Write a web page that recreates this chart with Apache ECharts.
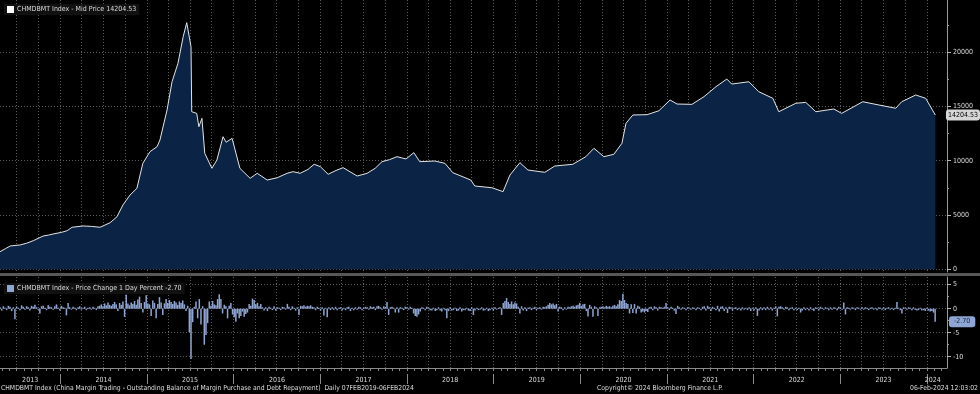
<!DOCTYPE html>
<html><head><meta charset="utf-8">
<script src="https://cdn.jsdelivr.net/npm/echarts@6/dist/echarts.min.js"></script>
<style>html,body{margin:0;padding:0;background:#000;}#c{width:980px;height:394px;}</style>
</head><body><div id="c"></div>
<script>
// ---- data ----
const priceDates = ['2013-04-22','2013-05-15','2013-06-04','2013-07-16','2013-08-12','2013-09-09','2013-10-21','2013-11-12','2013-12-02','2014-01-06','2014-01-30','2014-02-20','2014-04-07','2014-05-12','2014-06-18','2014-07-30','2014-08-28','2014-09-22','2014-10-22','2014-11-20','2014-12-15','2015-01-14','2015-02-13','2015-02-25','2015-03-27','2015-04-17','2015-05-12','2015-06-03','2015-06-18','2015-07-06','2015-07-09','2015-07-30','2015-08-08','2015-08-21','2015-09-02','2015-10-02','2015-10-23','2015-11-18','2015-12-01','2015-12-09','2015-12-26','2016-01-28','2016-03-11','2016-04-10','2016-05-22','2016-07-03','2016-08-14','2016-09-08','2016-10-08','2016-11-10','2016-12-06','2017-01-01','2017-02-03','2017-03-08','2017-04-07','2017-06-05','2017-07-17','2017-08-20','2017-09-18','2017-10-20','2017-11-20','2017-12-28','2018-01-30','2018-02-24','2018-04-28','2018-06-10','2018-07-13','2018-09-27','2018-10-14','2018-12-25','2019-02-10','2019-03-11','2019-04-22','2019-05-26','2019-08-05','2019-09-16','2019-12-01','2020-01-25','2020-02-28','2020-04-10','2020-05-22','2020-06-25','2020-07-12','2020-08-10','2020-10-09','2020-11-28','2021-01-14','2021-02-12','2021-04-16','2021-06-06','2021-07-26','2021-09-10','2021-10-01','2021-12-12','2022-01-23','2022-03-23','2022-04-17','2022-06-28','2022-08-09','2022-09-20','2022-12-05','2023-01-07','2023-04-06','2023-06-13','2023-08-23','2023-09-17','2023-11-15','2023-12-27','2024-02-06'];
const priceValues = [1620,1900,2145,2240,2400,2630,3065,3150,3250,3400,3555,3870,3990,3950,3870,4290,4840,5920,6840,7460,9760,10830,11290,11900,14670,17270,18970,21420,22710,20500,14510,14360,13130,13900,10680,9300,10060,12210,11700,11750,12060,9300,8380,8840,8220,8430,8840,8990,8840,9200,9670,9450,8750,9100,9360,8590,8840,9300,9910,10100,10370,10160,10740,9910,9970,9760,8900,8220,7670,7510,7150,8680,9820,9140,8930,9510,9670,10370,11140,10370,10590,11600,13440,14210,14240,14600,15590,15220,15190,15900,16810,17520,17060,17270,16350,15750,14510,15290,15370,14510,14760,14360,15430,15130,14830,15430,16050,15750,14204.53];
// weekly 1-day % change samples, starting at changeStart, one per week
const changeStart = '2013-04-22';
const changeValues = [
0.3,-0.4,0.5,0.2,-0.3,0.6,0.4,-0.5,0.3,-2.2,0.5,0.2,-0.3,0.7,0.4,-0.2,0.5,0.3,-0.4,0.6,
0.4,0.8,0.3,-0.2,-1.0,0.5,0.6,0.2,-0.3,0.7,0.4,0.3,-0.2,0.5,0.9,0.2,-0.4,0.6,0.3,0.2,
-1.4,1.2,0.3,-0.2,0.4,0.2,-0.3,0.3,0.5,-0.2,0.2,0.4,-0.3,0.2,0.3,-0.2,0.4,0.2,-0.3,0.5,
0.6,0.9,0.5,1.1,0.7,1.3,0.8,0.6,1.0,1.4,0.9,-0.5,1.2,0.8,1.5,-1.7,2.9,1.1,0.7,1.3,
1.0,1.6,0.8,1.9,2.5,1.2,-0.8,1.4,2.8,1.1,0.9,-1.5,1.7,1.2,-2.0,1.0,2.4,1.3,-1.3,1.1,
2.0,1.2,1.8,1.4,1.0,1.6,1.3,0.8,1.5,1.2,1.7,0.9,-0.5,0.6,-4.9,-10.5,-2.8,0.4,1.5,-2.0,
2.0,-3.3,0.5,-7.5,-5.5,-3.0,1.5,0.6,1.6,0.9,0.7,2.0,3.0,2.0,-1.0,0.8,0.5,-2.0,0.6,1.2,
-1.2,-1.8,-2.7,-1.0,-2.0,-1.5,-0.6,-1.7,-1.1,-0.8,1.0,0.6,2.1,1.8,0.9,1.2,0.5,1.0,0.3,-0.4,
0.3,-0.5,0.4,0.2,-0.3,0.5,-0.4,0.3,0.2,-0.3,0.4,0.3,-0.2,1.0,0.4,-0.3,0.5,0.2,-0.4,0.3,
-1.3,0.6,0.5,0.7,0.4,0.6,0.5,0.7,0.4,0.3,-0.3,0.4,0.2,-0.4,0.3,-1.4,0.2,-1.8,0.3,-0.3,
0.3,-0.2,0.4,-0.3,0.2,0.3,-0.4,0.2,-0.3,0.3,0.4,-0.5,0.2,-0.3,0.3,-0.2,0.4,0.3,-0.3,0.2,
0.4,0.3,-0.2,0.5,0.3,0.4,-0.3,0.5,0.6,0.3,-0.2,0.5,0.4,1.4,-1.3,0.3,0.4,0.2,-0.8,0.3,
-0.8,0.3,0.2,-0.3,0.4,0.3,-0.2,0.4,0.2,-1.0,-1.5,-1.7,-1.2,-0.6,0.3,0.2,-0.3,0.4,0.2,-0.3,
-0.4,0.2,-0.5,-0.3,0.3,-0.4,-0.6,0.2,-0.3,-2.0,-0.5,0.3,-0.4,-0.3,0.2,-0.5,-0.4,0.3,-0.6,-0.3,
-0.3,0.2,-0.4,-0.5,0.3,-1.3,-0.4,0.2,-0.3,-0.2,0.3,-0.4,-0.3,0.2,-0.5,-0.3,0.2,-0.4,0.3,-0.2,
0.2,0.3,-1.3,1.2,1.6,2.2,1.4,1.0,1.5,0.9,1.3,1.1,0.4,-1.0,0.5,-0.4,0.3,-0.5,0.2,0.3,
-0.3,0.2,0.4,-0.3,0.2,0.3,-0.2,0.4,0.3,0.5,0.8,1.2,0.9,1.1,0.7,1.0,-0.6,0.4,0.3,-0.3,
0.3,-0.2,0.4,0.3,0.5,0.6,0.4,0.7,0.8,1.2,0.6,0.9,1.0,-0.5,-1.6,0.8,0.4,-1.7,0.5,0.3,
-1.5,0.3,0.4,0.5,0.3,0.6,0.4,0.5,0.3,0.6,0.8,0.5,0.9,1.8,1.6,3.1,1.8,1.2,1.0,-1.0,
0.9,-0.9,1.0,-1.0,0.6,0.4,-0.8,-0.6,-0.8,-0.5,-0.7,0.3,0.4,-0.3,0.5,0.3,-0.4,0.4,0.3,0.2,
0.4,1.2,0.3,-0.3,0.4,0.2,-0.4,-1.1,0.6,0.3,-0.2,0.3,0.2,-0.3,0.3,0.2,-0.2,0.3,0.2,-0.3,
0.3,0.2,-0.3,0.4,0.5,-0.4,0.6,0.3,-0.5,0.4,0.2,-0.3,0.6,-0.6,0.4,0.5,-0.5,0.3,-0.9,0.4,
0.3,-0.4,0.2,0.3,-0.3,0.2,-0.4,0.3,-0.2,0.2,-0.3,0.3,-0.5,0.2,-0.4,0.3,-1.5,-0.4,0.3,-0.3,
0.3,-0.3,0.4,-0.2,0.3,-0.4,0.2,0.5,-1.6,0.4,0.5,0.3,-0.2,0.4,0.3,-0.3,0.2,0.3,-0.3,0.2,
-0.3,0.2,-0.8,-0.4,0.3,-0.3,0.2,-0.4,0.3,-0.2,-0.5,0.3,0.2,-0.3,0.4,0.2,-0.2,0.3,0.2,-0.3,
0.3,-0.2,0.3,0.2,-0.3,0.4,0.2,-0.2,1.3,-1.2,0.3,0.2,-0.2,0.3,0.2,-0.3,0.3,0.2,-0.2,0.3,
-0.2,0.3,0.2,-0.3,0.2,0.3,-0.2,0.2,-0.3,0.3,0.2,-0.2,0.3,-0.3,0.2,0.3,-0.2,0.2,-0.3,0.2,
1.4,0.2,-0.3,-1.0,0.3,0.2,-0.2,0.3,0.2,-0.3,0.3,-0.2,-0.4,-0.3,0.2,-0.4,-0.3,-0.5,0.2,-0.4,-0.6,-0.5,-0.8,-2.7
];
const yearLabels = [2013,2014,2015,2016,2017,2018,2019,2020,2021,2022,2023,2024];
const topTicks = [0,5000,10000,15000,20000];
const topMinorTicks = [2500,7500,12500,17500,22500];
const bottomTicks = [-10,-5,0,5];
const bottomMinorTicks = [-7.5,-2.5,2.5];
const lastPrice = 14204.53;
const lastChange = -2.70;
const topName = 'CHMDBMT Index - Mid Price 14204.53';
const botName = 'CHMDBMT Index - Price Change 1 Day Percent -2.70';

// ---- helpers ----
const ts = s => +new Date(s + 'T00:00:00');
const xMin = ts('2013-04-22'), xMax = ts('2024-03-26');
const DAY = 86400000;
const priceData = priceDates.map((d, i) => [ts(d), priceValues[i]]);
const changeData = changeValues.map((v, i) => [ts(changeStart) + i * 7 * DAY, v]);
const quarterTicks = [], monthTicks = [], yearTicks = [], yearLabelPos = [];
yearLabels.forEach(y => {
  for (let m = 0; m < 12; m++) {
    const t = +new Date(y, m, 1);
    if (t > xMin && t < xMax) { monthTicks.push(t); if (m % 3 === 0) quarterTicks.push(t); }
  }
  const ys = +new Date(y, 0, 1);
  if (ys > xMin) yearTicks.push(ys);
});
yearLabels.forEach(y => {
  let t = +new Date(y, 6, 2);
  if (y === yearLabels[0]) t = +new Date(y, 7, 27);
  if (y === yearLabels[yearLabels.length - 1]) t = +new Date(y, 0, 26);
  yearLabelPos.push(t);
});

const FONT = "'Liberation Sans Narrow','DejaVu Sans Condensed','Arial Narrow',sans-serif";
const FS = 7;
const TXT = '#dcdcdc';
const GRIDC = '#5c5c5c';

const xBase = { type: 'value', min: xMin, max: xMax, scale: true };
const chart = echarts.init(document.getElementById('c'));
chart.setOption({
  backgroundColor: '#000',
  animation: false,
  textStyle: { fontFamily: FONT },
  grid: [
    { left: 0, top: 0, width: 947, height: 272 },
    { left: 0, top: 277, width: 947, height: 91 }
  ],
  legend: [
    { data: [{ name: topName, itemStyle: { color: '#fff' } }], left: 4, top: 4, icon: 'rect', itemWidth: 7, itemHeight: 7,
      selectedMode: false, backgroundColor: '#111', padding: [2, 3], textStyle: { color: TXT, fontSize: FS, fontFamily: FONT, padding: [0,0,0,-2] } },
    { data: [{ name: botName, itemStyle: { color: '#8fa6d4' } }], left: 4, top: 283, icon: 'rect', itemWidth: 7, itemHeight: 7,
      selectedMode: false, backgroundColor: '#111', padding: [2, 3], textStyle: { color: TXT, fontSize: FS, fontFamily: FONT, padding: [0,0,0,-2] } }
  ],
  xAxis: [
    Object.assign({}, xBase, { gridIndex: 0, axisLine: { show: false },
      axisTick: { show: false, customValues: quarterTicks }, axisLabel: { show: false, customValues: quarterTicks },
      splitLine: { show: true, lineStyle: { color: GRIDC, type: [1, 2] } } }),
    Object.assign({}, xBase, { gridIndex: 1, position: 'bottom',
      axisLine: { show: true, onZero: false, lineStyle: { color: '#8a8a8a' } },
      axisTick: { show: true, customValues: monthTicks, length: 3, lineStyle: { color: '#8a8a8a' } },
      axisLabel: { show: false, customValues: monthTicks }, splitLine: { show: false } }),
    Object.assign({}, xBase, { gridIndex: 1, position: 'bottom', axisLine: { show: false, onZero: false },
      axisTick: { show: false, customValues: quarterTicks }, axisLabel: { show: false, customValues: quarterTicks },
      splitLine: { show: true, lineStyle: { color: GRIDC, type: [1, 2] } } }),
    Object.assign({}, xBase, { gridIndex: 1, position: 'bottom', offset: 6, axisLine: { show: false, onZero: false },
      axisTick: { show: true, customValues: yearTicks, length: 10, lineStyle: { color: '#8a8a8a' } },
      axisLabel: { show: true, customValues: yearLabelPos, color: TXT, fontSize: FS, margin: 3, fontFamily: FONT,
        formatter: v => String(new Date(v).getFullYear()) },
      splitLine: { show: false } })
  ],
  yAxis: [
    { type: 'value', gridIndex: 0, position: 'right', min: -250, max: 24800,
      axisLine: { show: true, lineStyle: { color: '#9a9a9a' } },
      axisTick: { show: true, customValues: topTicks, length: 4, lineStyle: { color: '#bbb' } },
      axisLabel: { customValues: topTicks, color: TXT, fontSize: FS, margin: 6, fontFamily: FONT, formatter: v => String(v) },
      splitLine: { show: true, lineStyle: { color: GRIDC, type: [1, 2] } },
      axisPointer: { show: true, value: lastPrice, status: 'show', triggerTooltip: false, snap: false,
        lineStyle: { color: 'transparent' },
        label: { show: true, formatter: p => Number(p.value).toFixed(2), backgroundColor: '#d6d6d6', color: '#000',
          fontSize: FS, padding: [2, 2], margin: 2, fontFamily: FONT } } },
    { type: 'value', gridIndex: 0, position: 'right', min: -250, max: 24800,
      axisLine: { show: false }, axisTick: { show: true, customValues: topMinorTicks, length: 2, lineStyle: { color: '#999' } },
      axisLabel: { show: false, customValues: topMinorTicks }, splitLine: { show: false } },
    { type: 'value', gridIndex: 1, position: 'right', min: -12.35, max: 6.6,
      axisLine: { show: true, lineStyle: { color: '#9a9a9a' } },
      axisTick: { show: true, customValues: bottomTicks, length: 4, lineStyle: { color: '#bbb' } },
      axisLabel: { customValues: bottomTicks, color: TXT, fontSize: FS, margin: 6, fontFamily: FONT, formatter: v => String(v) },
      splitLine: { show: true, lineStyle: { color: GRIDC, type: [1, 2] } },
      axisPointer: { show: true, value: lastChange, status: 'show', triggerTooltip: false, snap: false,
        lineStyle: { color: 'transparent' },
        label: { show: true, formatter: p => Number(p.value).toFixed(2), backgroundColor: '#8fa6d4', color: '#15233d',
          fontSize: FS, padding: [2, 5], margin: 2, fontFamily: FONT } } },
    { type: 'value', gridIndex: 1, position: 'right', min: -12.35, max: 6.6,
      axisLine: { show: false }, axisTick: { show: true, customValues: bottomMinorTicks, length: 2, lineStyle: { color: '#999' } },
      axisLabel: { show: false, customValues: bottomMinorTicks }, splitLine: { show: false } }
  ],
  series: [
    { name: topName, type: 'line', xAxisIndex: 0, yAxisIndex: 0, data: priceData, showSymbol: false, symbol: 'none',
      itemStyle: { color: '#fff' }, lineStyle: { color: '#e4e4e4', width: 1 },
      areaStyle: { color: '#0b2446', opacity: 1 } },
    { name: botName, type: 'bar', xAxisIndex: 1, yAxisIndex: 2, data: changeData, barWidth: 1.5,
      itemStyle: { color: '#8fa6d4' } }
  ],
  graphic: [
    { type: 'rect', left: 0, top: 273, shape: { width: 980, height: 3 }, style: { fill: '#575757' }, z: 100 },
    { type: 'text', left: 1, top: 385, style: { text: 'CHMDBMT Index (China Margin Trading - Outstanding Balance of Margin Purchase and Debt Repayment)  Daily 07FEB2019-06FEB2024', fill: TXT, font: '6.8px ' + FONT } },
    { type: 'text', left: 597, top: 385, style: { text: 'Copyright\u00A9 2024 Bloomberg Finance L.P.', fill: TXT, font: '6.8px ' + FONT } },
    { type: 'text', right: 2, top: 385, style: { text: '06-Feb-2024 12:03:02', fill: TXT, font: '6.8px ' + FONT } }
  ]
});
</script></body></html>
